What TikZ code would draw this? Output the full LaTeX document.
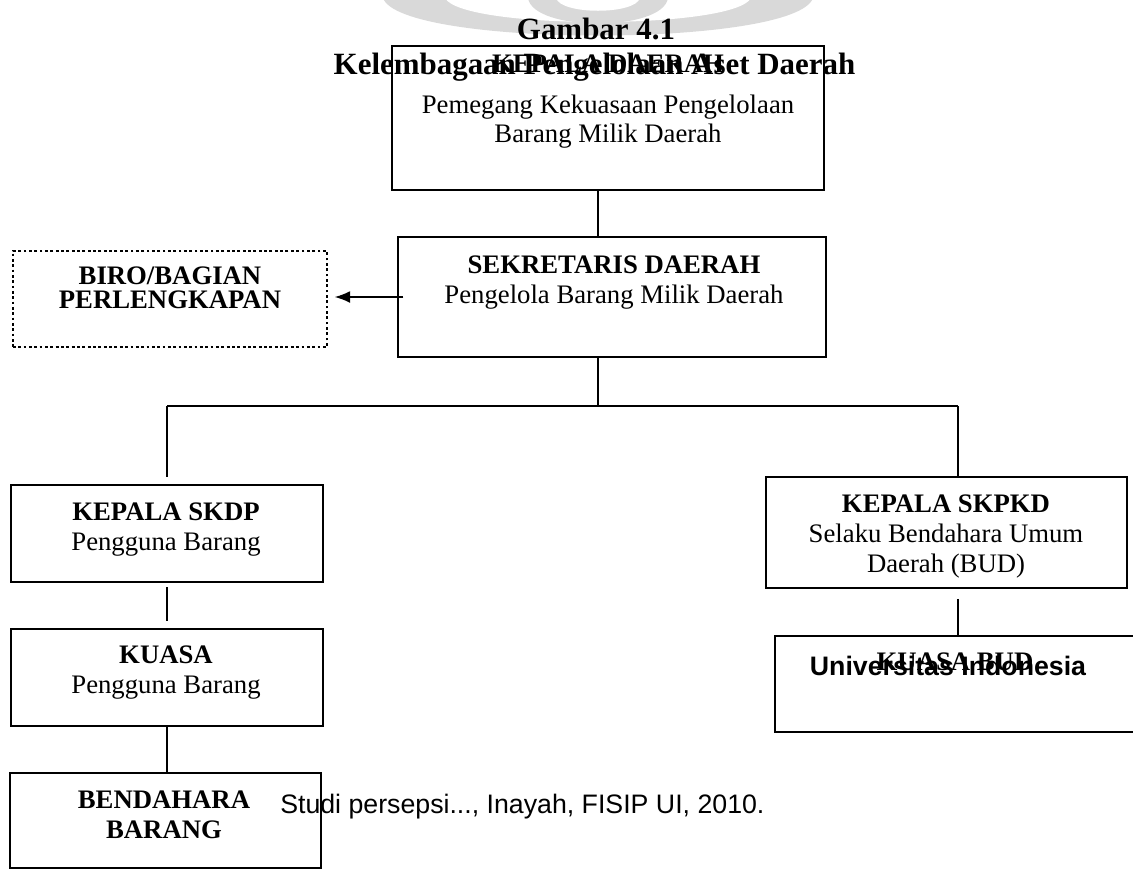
\documentclass[tikz,border=0pt]{standalone}
\usepackage{fontspec}
\setmainfont{Liberation Serif}
\newfontfamily\arialfont{Liberation Sans}
\usetikzlibrary{positioning,arrows.meta}

\tikzset{
  box/.style={draw, line width=1.3pt, inner sep=0pt},
  conn/.style={line width=0.9pt},
  txt/.style={anchor=base, align=center, inner sep=0pt, font=\fontsize{19}{21.3}\selectfont}
}

\begin{document}
\begin{tikzpicture}[x=0.025cm,y=-0.025cm]

  \useasboundingbox (0,0) rectangle (1133,870);

  \begin{scope}[black!15]
    \fill (383,-2) .. controls (400,48) and (796,48) .. (813,-2) -- cycle;
    \fill[white] (445,-2) .. controls (462,30) and (734,30) .. (751,-2) -- cycle;
    \fill (528,-2) .. controls (533,32) and (663,32) .. (668,-2) -- cycle;
    \fill[white] (556,-2) .. controls (561,15) and (635,15) .. (640,-2) -- cycle;
  \end{scope}

  \begin{scope}[every node/.style={box}]
    \node (kd)    at (608,118)     [minimum width=10.8cm,  minimum height=3.6cm] {};
    \node (sek)   at (612,297)     [minimum width=10.7cm,  minimum height=3cm] {};
    \node (biro)  at (170,299)     [minimum width=7.85cm,  minimum height=2.4cm,
                                    line width=1pt, dash pattern=on 2pt off 1.8pt] {};
    \node (skdp)  at (167,533.5)   [minimum width=7.8cm,   minimum height=2.425cm] {};
    \node (kuasa) at (167,677.5)   [minimum width=7.8cm,   minimum height=2.425cm] {};
    \node (bend)  at (165.5,820.5) [minimum width=7.775cm, minimum height=2.375cm] {};
    \node (skpkd) at (946.5,532.5) [minimum width=9.025cm, minimum height=2.775cm] {};
    \node (kbud)  at (956,684)     [minimum width=9.05cm,  minimum height=2.4cm] {};
  \end{scope}

  \begin{scope}[every node/.style={txt}]
    \node (gambar) at (596,39)   [font=\fontsize{22}{25}\selectfont\bfseries] {Gambar 4.1};
    \node (judul)  at (594.5,74) [font=\fontsize{22}{25}\selectfont\bfseries] {Kelembagaan Pengelolaan Aset Daerah};
    \node (kdA)    at (608,72)   {\bfseries KEPALA DAERAH};
    \node (kdB)    at (608,142)  [font=\fontsize{19}{20.6}\selectfont] {Pemegang Kekuasaan Pengelolaan\\Barang Milik Daerah};
    \node (sekT)   at (614,303)  {\bfseries SEKRETARIS DAERAH\\Pengelola Barang Milik Daerah};
    \node (biroT)  at (170,308)  [font=\fontsize{19}{17}\selectfont\bfseries] {BIRO/BAGIAN\\PERLENGKAPAN};
    \node (skdpT)  at (166,550)  {\bfseries KEPALA SKDP\\Pengguna Barang};
    \node (kuasaT) at (166,693)  {\bfseries KUASA\\Pengguna Barang};
    \node (bendT)  at (164,838)  [font=\fontsize{19}{21.3}\selectfont\bfseries] {BENDAHARA\\BARANG};
    \node (skpkdT) at (946,572)  {\bfseries KEPALA SKPKD\\Selaku Bendahara Umum\\Daerah (BUD)};
    \node (kbudT)  at (955,670)  {\bfseries KUASA BUD};
    \node (univ)   at (948,675)  [font=\fontsize{19}{21.3}\selectfont\arialfont\bfseries] {Universitas Indonesia};
    \node (studi)  at (280,813)  [anchor=base west, font=\fontsize{19}{21.3}\selectfont\arialfont] {Studi persepsi..., Inayah, FISIP UI, 2010.};
  \end{scope}

  \coordinate (trunk) at (598,406);
  \coordinate (rj)    at (958,406);

  \draw[conn] (trunk |- kd.south) -- (trunk |- sek.north);
  \draw[conn] (trunk |- sek.south) -- (trunk);
  \draw[conn] (skdp.north |- trunk) -- (rj);
  \draw[conn, shorten >=5pt] (skdp.north |- trunk) -- (skdp.north);
  \draw[conn] (rj) -- (rj |- skpkd.north);
  \draw[conn, shorten <=3pt, shorten >=5pt] (skdp.south) -- (kuasa.north);
  \draw[conn] (kuasa.south) -- (kuasa.south |- bend.north);
  \draw[conn, shorten <=7pt] (rj |- skpkd.south) -- (rj |- kbud.north);
  \draw[conn, -{Latex[length=11pt,width=8.5pt]}, shorten >=5pt]
    ([xshift=4.5pt]sek.west) -- (biro.east |- sek.west);

\end{tikzpicture}
\end{document}
